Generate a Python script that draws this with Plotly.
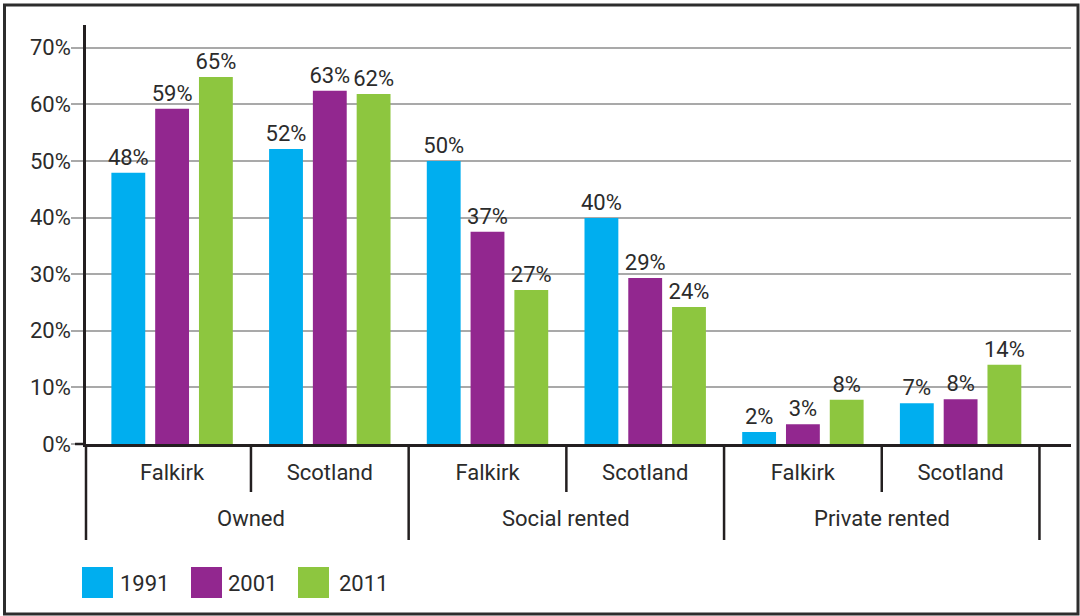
import plotly.graph_objects as go

# ---- data ----
groups = ["Owned", "Owned", "Social rented", "Social rented", "Private rented", "Private rented"]
areas = ["Falkirk", "Scotland", "Falkirk", "Scotland", "Falkirk", "Scotland"]
years = ["1991", "2001", "2011"]
v1991 = [47.9, 52.1, 50.0, 39.9, 2.1, 7.2]
v2001 = [59.2, 62.4, 37.5, 29.3, 3.5, 7.9]
v2011 = [64.8, 61.8, 27.2, 24.2, 7.8, 14.0]
lab1991 = ["48%", "52%", "50%", "40%", "2%", "7%"]
lab2001 = ["59%", "63%", "37%", "29%", "3%", "8%"]
lab2011 = ["65%", "62%", "27%", "24%", "8%", "14%"]
y_ticks = [0, 10, 20, 30, 40, 50, 60, 70]

colors = ["#00AEEF", "#92278F", "#8DC63F"]
TXT = "#2b2b2b"
DARK = "#231f20"
GRID = "#a9a9a9"
FONT = "Roboto"
WT = 400

W, H = 1080, 616
ML, MR, MT, MB = 86, 9, 25, 172
PW, PH = W - ML - MR, H - MT - MB


def px(x):
    return (x - ML) / PW


def py(y):
    return (H - MB - y) / PH


def tf():
    return dict(family=FONT, size=22, color=TXT, weight=WT)


keys = [g + "|" + a for g, a in zip(groups, areas)]

fig = go.Figure()
for yr, vals, labs, c in zip(years, [v1991, v2001, v2011], [lab1991, lab2001, lab2011], colors):
    fig.add_trace(go.Bar(
        x=keys, y=vals, name=yr, marker=dict(color=c, line=dict(width=0)),
        text=labs, textposition="outside", cliponaxis=False, constraintext="none",
        textfont=tf(),
        showlegend=False, hoverinfo="skip",
    ))

shapes = []
annotations = []

# group dividers and labels
n = len(keys)
bounds_long = []
for i in range(1, n):
    if groups[i] != groups[i - 1]:
        bounds_long.append(i - 0.5)
bounds_long.append(n - 0.5)
bounds_short = [i - 0.5 for i in range(1, n) if groups[i] == groups[i - 1]]

# left divider continues the y axis line
shapes.append(dict(type="line", xref="paper", yref="paper", ysizemode="pixel", yanchor=0,
                   x0=0, x1=0, y0=0, y1=-96, line=dict(color=DARK, width=2.5)))
for b in bounds_long:
    shapes.append(dict(type="line", xref="x", yref="paper", ysizemode="pixel", yanchor=0,
                       x0=b, x1=b, y0=0, y1=-96, line=dict(color=DARK, width=2.5)))
for b in bounds_short:
    shapes.append(dict(type="line", xref="x", yref="paper", ysizemode="pixel", yanchor=0,
                       x0=b, x1=b, y0=0, y1=-48, line=dict(color=DARK, width=2.5)))

seen = []
for g in groups:
    if g not in seen:
        seen.append(g)
for g in seen:
    idx = [i for i, gg in enumerate(groups) if gg == g]
    annotations.append(dict(x=sum(idx) / len(idx), y=0, xref="x", yref="paper",
                            yshift=-74, text=g, showarrow=False, yanchor="middle",
                            font=tf()))

# zero-line tick extension
shapes.append(dict(type="line", xref="paper", yref="paper", x0=px(75), x1=0, y0=0, y1=0,
                   line=dict(color=DARK, width=2.5)))

# custom legend
leg_sq_x = [82, 191, 298]
leg_tx_x = [118, 226, 337]
for yr, c, sx, tx in zip(years, colors, leg_sq_x, leg_tx_x):
    shapes.append(dict(type="rect", xref="paper", yref="paper",
                       x0=px(sx), x1=px(sx + 31), y0=py(598), y1=py(567),
                       fillcolor=c, line=dict(width=0)))
    annotations.append(dict(x=px(tx), y=py(583), xref="paper", yref="paper",
                            text=yr, showarrow=False, xanchor="left", yanchor="middle",
                            font=tf()))

# outer frame
shapes.append(dict(type="rect", xref="paper", yref="paper",
                   x0=px(4.5), x1=px(1078), y0=py(614), y1=py(5),
                   line=dict(color="#2d2d2d", width=3), fillcolor="rgba(0,0,0,0)"))

fig.update_layout(
    width=W, height=H,
    margin=dict(l=ML, r=MR, t=MT, b=MB, pad=0),
    paper_bgcolor="white", plot_bgcolor="white",
    barmode="group", bargap=0.167, bargroupgap=0.227,
    font=tf(),
    shapes=shapes, annotations=annotations,
    showlegend=False,
    xaxis=dict(
        type="category", range=[-0.546, 5.70],
        tickmode="array", tickvals=keys, ticktext=areas,
        ticks="", showgrid=False, zeroline=False,
        showline=True, linecolor=DARK, linewidth=2.5,
        tickfont=tf(),
        ticklabelstandoff=7,
    ),
    yaxis=dict(
        range=[0, 74], tickvals=y_ticks, ticktext=[f"{v}%" for v in y_ticks],
        ticks="outside", ticklen=12, tickcolor=GRID, tickwidth=2,
        showgrid=True, gridcolor=GRID, gridwidth=2, zeroline=False,
        showline=True, linecolor=DARK, linewidth=2.5,
        tickfont=tf(),
        ticklabelstandoff=-4,
    ),
)

fig.write_html("out.html", config={"displayModeBar": False},
               post_script="document.body.style.margin='0';document.body.style.overflow='hidden';")
